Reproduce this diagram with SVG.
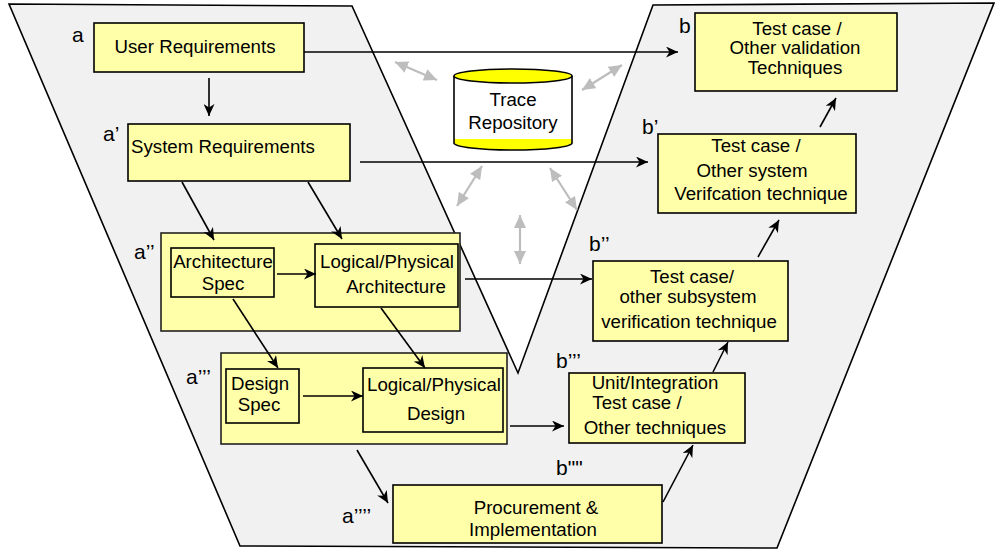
<svg xmlns="http://www.w3.org/2000/svg" width="995" height="549" viewBox="0 0 995 549">
<style>
.box{fill:#ffffaa;stroke:#000;stroke-width:1.6}
.grp{fill:#ffffaa;stroke:#222;stroke-width:1.6}
text{font-family:"Liberation Sans",Arial,sans-serif;font-size:18.7px;fill:#000}
.c{text-anchor:middle}
.lbl{font-size:21px}
.arr{stroke:#000;stroke-width:1.6;fill:none;marker-end:url(#ah)}
.garr{stroke:#bdbdbd;stroke-width:2.2;fill:none;marker-end:url(#gh);marker-start:url(#gh)}
</style>
<defs>
<marker id="ah" markerUnits="userSpaceOnUse" markerWidth="13" markerHeight="11" refX="12" refY="5.5" orient="auto">
<path d="M0,0 L12,5.5 L0,11 L3.5,5.5 z" fill="#000"/>
</marker>
<marker id="gh" markerUnits="userSpaceOnUse" markerWidth="14" markerHeight="12" refX="13" refY="6" orient="auto-start-reverse">
<path d="M0,0 L13,6 L0,12 z" fill="#bdbdbd"/>
</marker>
</defs>
<polygon id="vshape" points="9,4 352,6 518,373 653,5 994,3 777,548 240,546" fill="#f1f1f1" stroke="#000" stroke-width="1.6"/>

<g id="repo">
<path d="M454,139 L572,139 L572,143 A59,7 0 0 1 454,143 Z" fill="#ffff00"/>
<path d="M454,76 L454,143 A59,7 0 0 0 572,143 L572,76" fill="none" stroke="#000" stroke-width="1.6"/>
<ellipse cx="513" cy="76" rx="59" ry="7" fill="#ffff00" stroke="#000" stroke-width="1.6"/>
<text class="c" x="513" y="106">Trace</text>
<text class="c" x="513" y="129">Repository</text>
</g>

<g id="userreq">
<rect class="box" x="94" y="23" width="210" height="49"/>
<text class="c" x="195" y="53">User Requirements</text>
<text class="lbl" x="72" y="42">a</text>
</g>
<g id="sysreq">
<rect class="box" x="128" y="124" width="222" height="57"/>
<text x="131" y="153">System Requirements</text>
<text class="lbl" x="103" y="141">a’</text>
</g>
<g id="archgrp">
<rect class="grp" x="161" y="233" width="299" height="98"/>
<text class="lbl" x="134" y="259">a’’</text>
</g>
<g id="archspec">
<rect class="box" x="171" y="248" width="103" height="49"/>
<text class="c" x="223" y="268">Architecture</text>
<text class="c" x="223" y="290">Spec</text>
</g>
<g id="logarch">
<rect class="box" x="315" y="244" width="143" height="63"/>
<text class="c" x="387" y="268">Logical/Physical</text>
<text class="c" x="396" y="293">Architecture</text>
</g>
<g id="desgrp">
<rect class="grp" x="221" y="353" width="286" height="91"/>
<text class="lbl" x="186" y="384">a’’’</text>
</g>
<g id="desspec">
<rect class="box" x="226" y="369" width="73" height="54"/>
<text class="c" x="260" y="390">Design</text>
<text class="c" x="259" y="411">Spec</text>
</g>
<g id="logdes">
<rect class="box" x="363" y="368" width="140" height="64"/>
<text class="c" x="434" y="391">Logical/Physical</text>
<text class="c" x="436" y="420">Design</text>
</g>
<g id="proc">
<rect class="box" x="393" y="485" width="269" height="58"/>
<text class="c" x="536" y="514">Procurement &amp;</text>
<text class="c" x="533" y="536">Implementation</text>
<text class="lbl" x="342" y="523">a’’’’</text>
</g>
<g id="unit">
<rect class="box" x="569" y="373" width="176" height="70"/>
<text class="c" x="655" y="389">Unit/Integration</text>
<text class="c" x="637" y="409">Test case /</text>
<text class="c" x="655" y="434">Other techniques</text>
<text class="lbl" x="556" y="368">b’’’</text>
<text class="lbl" x="556" y="475">b""</text>
</g>
<g id="subsys">
<rect class="box" x="593" y="261" width="195" height="80"/>
<text class="c" x="692" y="283">Test case/</text>
<text class="c" x="688" y="303">other subsystem</text>
<text class="c" x="689" y="328">verification technique</text>
<text class="lbl" x="589" y="251">b’’</text>
</g>
<g id="systest">
<rect class="box" x="658" y="134" width="198" height="79"/>
<text class="c" x="756" y="152">Test case /</text>
<text class="c" x="752" y="177">Other system</text>
<text class="c" x="761" y="200">Verifcation technique</text>
<text class="lbl" x="642" y="134">b’</text>
</g>
<g id="valtest">
<rect class="box" x="695" y="13" width="202" height="78"/>
<text class="c" x="797" y="35">Test case /</text>
<text class="c" x="795" y="54">Other validation</text>
<text class="c" x="795" y="74">Techniques</text>
<text class="lbl" x="679" y="33">b</text>
</g>

<g id="connectors">
<line class="arr" x1="209" y1="78" x2="209" y2="116"/>
<line class="arr" x1="182" y1="182" x2="214" y2="240"/>
<line class="arr" x1="308" y1="182" x2="342" y2="239"/>
<line class="arr" x1="277" y1="274" x2="316" y2="274"/>
<line class="arr" x1="233" y1="299" x2="278" y2="368"/>
<line class="arr" x1="381" y1="308" x2="425" y2="368"/>
<line class="arr" x1="303" y1="396" x2="363" y2="396"/>
<line class="arr" x1="357" y1="450" x2="388" y2="503"/>
<line class="arr" x1="304" y1="52" x2="678" y2="52"/>
<line class="arr" x1="360" y1="162" x2="648" y2="162"/>
<line class="arr" x1="465" y1="279" x2="592" y2="279"/>
<line class="arr" x1="510" y1="426" x2="564" y2="426"/>
<line class="arr" x1="663" y1="502" x2="693" y2="445"/>
<line class="arr" x1="713" y1="372" x2="728" y2="342"/>
<line class="arr" x1="758" y1="257" x2="779" y2="220"/>
<line class="arr" x1="820" y1="127" x2="836" y2="98"/>
<line class="garr" x1="395" y1="62" x2="437" y2="80"/>
<line class="garr" x1="582" y1="90" x2="622" y2="65"/>
<line class="garr" x1="457" y1="206" x2="482" y2="166"/>
<line class="garr" x1="550" y1="168" x2="577" y2="210"/>
<line class="garr" x1="520" y1="215" x2="520" y2="264"/>
</g>
</svg>
